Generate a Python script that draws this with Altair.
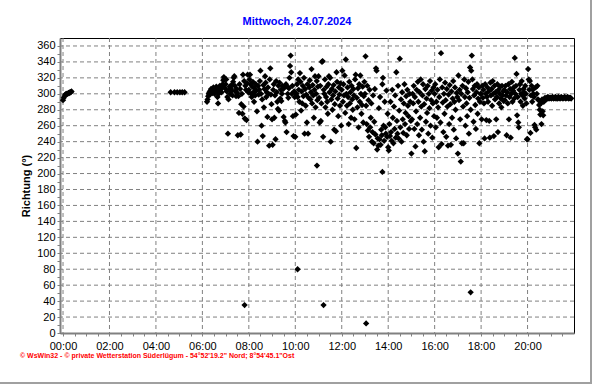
import altair as alt
import pandas as pd

# ---- data: wind direction (degrees), sampled at a fixed interval per segment ----
seg_0000 = [292, 295, 297, 299, 300, 300, 300, 301, 301, 302, 302, 303]          # 00:00, 2 min
seg_0438_zeit = ["04:38", "04:48", "04:55", "05:02", "05:08", "05:14"]
seg_0438 = [302, 302, 302, 302, 302, 302]
seg_0612 = [290, 293, 297, 300, 302, 299, 304, 306, 303, 301, 306, 308, 305, 300, 303, 307,
            309, 304, 296, 288, 300, 305, 310, 308, 306, 302, 309, 312, 317, 321, 319, 307]
h07 = [312, 318, 303, 296, 250, 293, 305, 309, 300, 307, 311, 304, 298, 315, 320, 322, 310, 303, 297, 306,
       301, 248, 297, 276, 312, 306, 249, 287, 300, 275, 324, 284, 316, 269, 310, 305, 267, 313, 324, 302]
h08 = [305, 318, 324, 312, 300, 296, 309, 315, 302, 290, 307, 298, 312, 304, 278, 240, 310, 299, 305, 316,
       329, 300, 260, 293, 247, 311, 283, 306, 322, 314, 296, 302, 271, 308, 300, 235, 318, 332, 299, 287]
h09 = [268, 236, 305, 312, 270, 298, 243, 316, 302, 290, 281, 310, 279, 314, 294, 305, 291, 300, 310, 306,
       271, 308, 266, 264, 312, 252, 309, 300, 295, 307, 320, 335, 348, 327, 300, 310, 272, 247, 303, 296]
h10 = [246, 274, 300, 312, 296, 318, 305, 290, 326, 315, 279, 303, 288, 310, 297, 320, 250, 306, 285, 299,
       264, 312, 250, 295, 308, 317, 293, 302, 331, 288, 311, 298, 270, 305, 322, 283, 300, 316, 292, 309]
h11 = [322, 295, 264, 310, 266, 288, 340, 341, 246, 305, 300, 318, 283, 296, 309, 290, 275, 312, 322, 302,
       320, 240, 293, 306, 280, 298, 311, 255, 287, 303, 253, 327, 315, 294, 272, 308, 299, 285, 313, 260]
h12 = [305, 329, 290, 312, 298, 323, 276, 343, 300, 285, 308, 296, 262, 315, 288, 302, 270, 310, 293, 280,
       306, 298, 268, 318, 324, 232, 295, 283, 307, 258, 312, 290, 323, 300, 275, 286, 309, 264, 297, 315]
h13 = [300, 347, 285, 262, 310, 254, 292, 246, 305, 258, 270, 288, 240, 252, 298, 238, 265, 306, 249, 332,
       329, 230, 244, 235, 282, 243, 296, 236, 255, 248, 312, 320, 260, 241, 290, 258, 250, 304, 246, 275]
h14 = [233, 229, 262, 247, 290, 252, 241, 305, 270, 238, 284, 256, 298, 245, 327, 266, 250, 310, 244, 279,
       344, 258, 293, 240, 302, 268, 251, 288, 312, 262, 276, 297, 248, 305, 285, 272, 256, 300, 290, 266]
h15 = [225, 268, 300, 288, 310, 256, 296, 234, 278, 305, 262, 315, 290, 248, 302, 270, 318, 284, 255, 298,
       312, 240, 287, 228, 306, 265, 294, 276, 310, 250, 300, 282, 316, 260, 292, 304, 245, 288, 308, 272]
h16 = [300, 312, 258, 290, 270, 305, 283, 233, 296, 318, 264, 351, 237, 308, 289, 252, 300, 275, 314, 292,
       246, 306, 284, 235, 299, 262, 311, 287, 236, 303, 270, 294, 316, 255, 290, 308, 280, 244, 301, 296]
h17 = [225, 323, 292, 305, 268, 215, 300, 238, 310, 284, 238, 318, 296, 260, 307, 288, 272, 302, 315, 250,
       295, 333, 280, 329, 348, 318, 306, 265, 298, 310, 286, 256, 302, 312, 275, 294, 308, 238, 290, 300]
h18 = [300, 268, 310, 295, 305, 288, 244, 312, 300, 267, 296, 308, 290, 303, 266, 245, 314, 298, 306, 285,
       316, 300, 247, 310, 293, 302, 268, 296, 312, 252, 305, 288, 300, 309, 294, 283, 310, 298, 303, 291]
h19 = [305, 292, 310, 298, 248, 302, 288, 312, 268, 296, 306, 245, 300, 315, 290, 304, 308, 294, 345, 300,
       310, 325, 273, 296, 264, 258, 305, 312, 290, 300, 316, 298, 285, 306, 302, 294, 310, 300, 288, 243]
h20 = [243, 331, 318, 305, 316, 251, 298, 310, 290, 305, 300, 296, 261, 258, 308, 255, 300, 310, 293, 292,
       286, 280, 274, 288, 262, 293, 278, 273, 290, 292, 295, 294, 293, 295, 294, 296, 295, 294, 295, 295]
h21 = [295, 294, 295, 296, 295, 294, 295, 295, 296, 294, 295, 295, 294, 296, 295, 295, 294, 295,
       296, 295, 295, 294, 295, 295, 296, 295, 294, 295, 295, 296, 295, 294, 295, 295, 295, 294]
ausreisser_zeit = ["07:49", "10:06", "10:56", "11:13", "13:03", "13:45", "17:33"]
ausreisser = [35, 80, 210, 35, 12, 202, 51]

x_ticks = [0, 2, 4, 6, 8, 10, 12, 14, 16, 18, 20]
y_ticks = list(range(20, 361, 20))

title_text = "Mittwoch, 24.07.2024"
footer_text = "\u00a9 WsWin32  -  \u00a9 private Wetterstation S\u00fcderl\u00fcgum  -  54\u00b052'19.2\" Nord; 8\u00b054'45.1\"Ost"


def hours(hhmm):
    h, m = hhmm.split(":")
    return int(h) + int(m) / 60.0


rows = []
segments = [("00:00", 2.0, seg_0000), ("06:12", 1.5, seg_0612), ("07:00", 1.5, h07), ("08:00", 1.5, h08),
            ("09:00", 1.5, h09), ("10:00", 1.5, h10), ("11:00", 1.5, h11), ("12:00", 1.5, h12),
            ("13:00", 1.5, h13), ("14:00", 1.5, h14), ("15:00", 1.5, h15), ("16:00", 1.5, h16),
            ("17:00", 1.5, h17), ("18:00", 1.5, h18), ("19:00", 1.5, h19), ("20:00", 1.5, h20),
            ("21:00", 1.5, h21)]
for start, step, vals in segments:
    t0 = hours(start)
    for i, v in enumerate(vals):
        rows.append({"t": t0 + i * step / 60.0, "v": v})
for z, v in zip(seg_0438_zeit, seg_0438):
    rows.append({"t": hours(z), "v": v})
for z, v in zip(ausreisser_zeit, ausreisser):
    rows.append({"t": hours(z), "v": v})
df = pd.DataFrame(rows)

FONT = "Liberation Sans"
GRID = "#808080"
xscale = alt.Scale(domain=[-0.13, 22], nice=False, zero=False)
yscale = alt.Scale(domain=[0, 370], nice=False)

x_axis = alt.Axis(
    values=[i * 0.5 for i in range(0, 44)],
    labelExpr="datum.value % 2 == 0 ? ((datum.value < 10 ? '0' : '') + datum.value + ':00') : ''",
    grid=False, title=None, tickSize=3, tickColor=GRID, domainColor=GRID, domainWidth=2,
    labelFont=FONT, labelFontSize=11, labelColor="black", labelPadding=4, labelFlush=False,
)
y_axis = alt.Axis(
    values=list(range(0, 361, 10)),
    labelExpr="datum.value % 20 == 0 ? datum.value : ''",
    grid=False, title="Richtung  (\u00b0)", tickSize=3, tickColor=GRID, domainColor=GRID, domainWidth=2,
    labelFont=FONT, labelFontSize=11, labelColor="black", labelPadding=2,
    titleFont=FONT, titleFontSize=11, titleFontWeight="bold", titleColor="black", titlePadding=5,
)

vgrid = alt.Chart(pd.DataFrame({"t": x_ticks})).mark_rule(
    color=GRID, strokeDash=[4, 3], strokeWidth=1
).encode(x=alt.X("t:Q", scale=xscale, axis=x_axis))

hgrid = alt.Chart(pd.DataFrame({"v": y_ticks})).mark_rule(
    color=GRID, strokeDash=[4, 3], strokeWidth=1
).encode(y=alt.Y("v:Q", scale=yscale, axis=y_axis))

points = alt.Chart(df).mark_point(
    shape="diamond", filled=True, color="black", size=40, opacity=1
).encode(
    x=alt.X("t:Q", scale=xscale, axis=x_axis),
    y=alt.Y("v:Q", scale=yscale, axis=y_axis),
)

title = alt.Chart(pd.DataFrame({"s": [title_text]})).mark_text(
    align="center", baseline="middle", font=FONT, fontSize=11, fontWeight="bold", color="#0000ff"
).encode(x=alt.value(237), y=alt.value(-16), text="s:N")

footer = alt.Chart(pd.DataFrame({"s": [footer_text]})).mark_text(
    align="left", baseline="middle", font=FONT, fontSize=7, fontWeight="bold", color="#ff0000"
).encode(x=alt.value(-40), y=alt.value(318), text="s:N")

border_r = alt.Chart(pd.DataFrame({"a": [0]})).mark_rule(color="#a0a0a0", strokeWidth=2).encode(
    x=alt.value(531), y=alt.value(-38), y2=alt.value(346))
border_b = alt.Chart(pd.DataFrame({"a": [0]})).mark_rule(color="#a0a0a0", strokeWidth=2).encode(
    x=alt.value(-60), x2=alt.value(532), y=alt.value(345))

chart = alt.layer(vgrid, hgrid, points, title, footer, border_r, border_b).properties(
    width=514, height=295,
    autosize=alt.AutoSizeParams(type="none"),
    padding={"left": 60, "top": 38, "right": 18, "bottom": 51},
    background="white",
).configure_view(stroke="black", strokeWidth=1)

chart.save("out.html", embed_options={"renderer": "svg", "actions": False})
